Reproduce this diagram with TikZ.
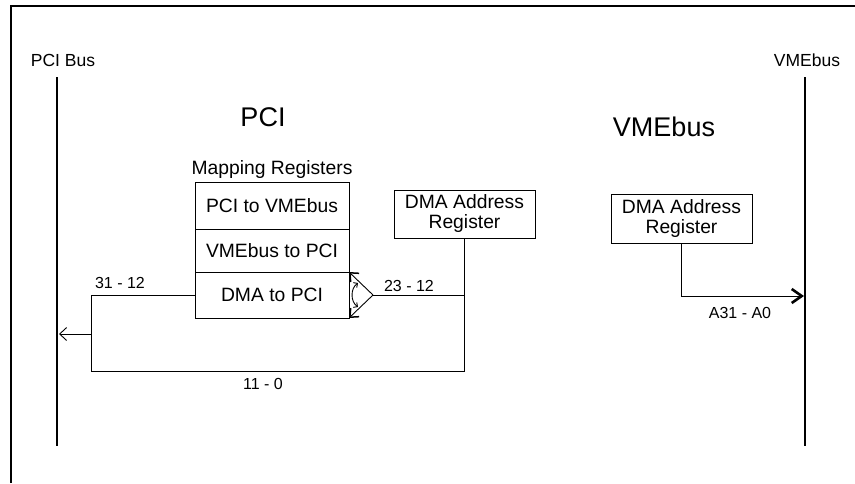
\documentclass[tikz,border=0pt]{standalone}
\usepackage{fontspec}
\setmainfont{Liberation Sans}
\usetikzlibrary{arrows.meta,positioning}
\tikzset{
    reg/.style={draw, line width=0.9pt, inner sep=0pt, outer sep=0pt, align=center, font=\fontsize{19.3}{20}\selectfont},
    bus/.style={line width=1.8pt},
    wire/.style={line width=0.9pt},
    busname/.style={font=\fontsize{17.5}{20}\selectfont},
    sidetitle/.style={font=\fontsize{27}{29}\selectfont},
    bits/.style={font=\fontsize{16}{18}\selectfont},
    muxtip/.style={-{Straight Barb[length=7pt, width=12pt, line width=1.5pt]}},
    outtip/.style={-{Straight Barb[length=10pt, width=14pt, line width=2.6pt]}}
}

\begin{document}
\begin{tikzpicture}[x=1pt, y=-1pt]
    \useasboundingbox (0,0) rectangle (855,483);
    % frame
    \draw[line width=2.2pt] (11,483) -- (11,6) -- (855,6);

    % the two buses
    \coordinate (pcitop) at (57,77);
    \coordinate (pcibot) at (57,446);
    \coordinate (vmetop) at (805,77);
    \coordinate (vmebot) at (805,446);
    \draw[bus] (pcitop) -- (pcibot);
    \draw[bus] (vmetop) -- (vmebot);
    \node[busname] (pcibus) at (63,60) {PCI Bus};
    \node[busname] (vmebus) at (807,60) {VMEbus};

    \node[sidetitle] (pcititle) at (263,117) {PCI};
    \node[sidetitle] (vmetitle) at (664,127) {VMEbus};

    % mapping registers
    \node[reg, minimum width=154pt, minimum height=47pt] (map1) at (272,205.5) {PCI to VMEbus};
    \node[reg, minimum width=154pt, minimum height=43pt] (map2) at (272,250.5) {VMEbus to PCI};
    \node[reg, minimum width=154pt, minimum height=46pt] (map3) at (272,295) {DMA to PCI};
    \node[reg, draw=none, above=3pt of map1] (maptitle) {Mapping Registers};

    % DMA address registers
    \node[reg, minimum width=141pt, minimum height=48pt] (dmapci) at (464.5,214) {DMA Address\\Register};
    \node[reg, minimum width=141pt, minimum height=49pt] (dmavme) at (681.5,218.5) {DMA Address\\Register};

    % PCI side wiring
    \coordinate (mux) at (373,295);
    \coordinate (lt) at (91,295);
    \coordinate (lb) at (91,371);
    \coordinate (ret) at (91,334);
    \draw[wire] (map3.west) -- (lt) -- (lb) -- (lb -| dmapci.south) -- (dmapci.south);
    \draw[wire] (mux) -- (mux -| dmapci.south);
    \draw[wire, muxtip] (mux) -- (map3.north east);
    \draw[wire, muxtip] (mux) -- (map3.south east);
    \draw[wire, {Straight Barb[length=3pt, width=6pt]}-{Straight Barb[length=3pt, width=6pt]}] (358,283) to[bend right=55] (358,307);
    \draw[wire, -{Straight Barb[length=7pt, width=13pt]}, shorten >=2pt] (ret) -- (ret -| pcitop);

    \node[bits] (hibits) at (120,283) {31 - 12};
    \node[bits] (midbits) at (409,286) {23 - 12};
    \node[bits] (lobits) at (263,384) {11 - 0};

    % VMEbus side wiring
    \coordinate (vmeout) at (804,296);
    \draw[wire, outtip] (dmavme.south) |- (vmeout);
    \node[bits] (vmebits) at (740,313) {A31 - A0};
\end{tikzpicture}
\end{document}
